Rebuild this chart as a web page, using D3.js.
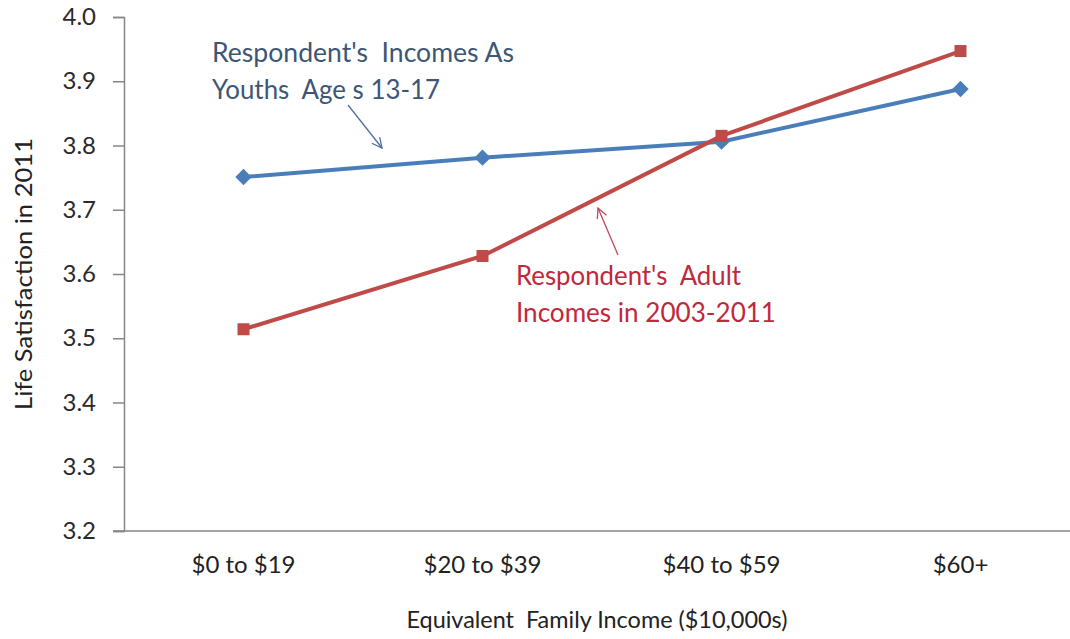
<!DOCTYPE html>
<html>
<head>
<meta charset="utf-8">
<script src="https://cdn.jsdelivr.net/npm/d3@7/dist/d3.min.js"></script>
<style>
  html, body { margin: 0; padding: 0; background: #fff; }
  svg { display: block; font-family: Lato, "Open Sans", sans-serif; }
</style>
</head>
<body>
<svg id="chart" width="1070" height="639"></svg>
<script>
// Income brackets ($10,000s)
const categories = ["$0 to $19", "$20 to $39", "$40 to $59", "$60+"];
// Life satisfaction by income measured as youths (ages 13-17)
const youthIncome = [3.751, 3.781, 3.806, 3.888];
// Life satisfaction by adult income 2003-2011
const adultIncome = [3.514, 3.628, 3.815, 3.947];
const yTicks = [3.2, 3.3, 3.4, 3.5, 3.6, 3.7, 3.8, 3.9, 4.0];

const svg = d3.select("#chart");
const plot = { left: 124, right: 1080, top: 17, bottom: 531 };

const x = d3.scaleBand().domain(categories).range([plot.left, plot.right]).padding(0);
const y = d3.scaleLinear().domain([3.2, 4.0]).range([plot.bottom, plot.top]);
const axisColor = "#868686";

// Y axis
const yAxis = svg.append("g")
  .attr("transform", `translate(${plot.left},0)`)
  .call(d3.axisLeft(y).tickValues(yTicks).tickFormat(d3.format(".1f")).tickSize(11).tickPadding(17));
yAxis.select(".domain").attr("stroke", axisColor).attr("stroke-width", 1.5);
yAxis.selectAll(".tick line").attr("stroke", axisColor).attr("stroke-width", 1.5);
yAxis.selectAll(".tick text").attr("fill", "#2a2a2a").attr("font-size", 24)
  .attr("font-family", "Lato, sans-serif");

// X axis
const xAxis = svg.append("g")
  .attr("transform", `translate(0,${plot.bottom})`)
  .call(d3.axisBottom(x).tickSize(0).tickPadding(25));
xAxis.select(".domain").attr("stroke", axisColor).attr("stroke-width", 1.5)
  .attr("d", `M${plot.left - 11},0H${plot.right}`);
xAxis.selectAll(".tick text").attr("fill", "#222").attr("font-size", 24)
  .attr("font-family", "Lato, sans-serif");

// Axis titles
svg.append("text")
  .attr("transform", `translate(32,274) rotate(-90)`)
  .attr("text-anchor", "middle")
  .attr("font-size", 23).attr("fill", "#222")
  .attr("textLength", 272).attr("lengthAdjust", "spacingAndGlyphs")
  .text("Life Satisfaction in 2011");
svg.append("text")
  .attr("x", 597).attr("y", 628)
  .attr("text-anchor", "middle")
  .attr("font-size", 23).attr("fill", "#222")
  .attr("xml:space", "preserve")
  .attr("textLength", 381).attr("lengthAdjust", "spacingAndGlyphs")
  .text("Equivalent  Family Income ($10,000s)");

const cx = d => x(d) + x.bandwidth() / 2;
const line = d3.line().x((d, i) => cx(categories[i])).y(d => y(d));

const blue = "#4A7EBB", red = "#BE4B48";

// Youth income series
svg.append("path").datum(youthIncome)
  .attr("d", line).attr("fill", "none").attr("stroke", blue).attr("stroke-width", 4);
svg.append("g").selectAll("path").data(youthIncome).join("path")
  .attr("transform", (d, i) => `translate(${cx(categories[i])},${y(d)})`)
  .attr("d", d3.symbol(d3.symbolDiamond2, 170)())
  .attr("fill", blue);

// Adult income series
svg.append("path").datum(adultIncome)
  .attr("d", line).attr("fill", "none").attr("stroke", red).attr("stroke-width", 4);
svg.append("g").selectAll("rect").data(adultIncome).join("rect")
  .attr("x", (d, i) => cx(categories[i]) - 6)
  .attr("y", d => y(d) - 6)
  .attr("width", 12).attr("height", 12)
  .attr("fill", red);

// Annotations
const defs = svg.append("defs");
[["arrowBlue", "#4F6FA0"], ["arrowRed", "#C0485A"]].forEach(([id, c]) => {
  defs.append("marker").attr("id", id)
    .attr("viewBox", "0 0 12 12").attr("refX", 11).attr("refY", 6)
    .attr("markerWidth", 12).attr("markerHeight", 12).attr("markerUnits", "userSpaceOnUse")
    .attr("orient", "auto")
    .append("path").attr("d", "M1,1 L11,6 L1,11").attr("fill", "none")
    .attr("stroke", c).attr("stroke-width", 1.3);
});

const noteLine = (sel, x0, y0, txt, len) => sel.append("tspan")
  .attr("x", x0).attr("y", y0)
  .attr("textLength", len).attr("lengthAdjust", "spacingAndGlyphs")
  .text(txt);

const blueNote = svg.append("text").attr("fill", "#3E5675").attr("font-size", 26)
  .attr("xml:space", "preserve");
noteLine(blueNote, 212, 62, "Respondent's  Incomes As", 302);
noteLine(blueNote, 212, 99, "Youths  Age s 13-17", 228);
svg.append("line").attr("x1", 348).attr("y1", 105).attr("x2", 382).attr("y2", 148)
  .attr("stroke", "#4F6FA0").attr("stroke-width", 1.3).attr("marker-end", "url(#arrowBlue)");

const redNote = svg.append("text").attr("fill", "#C0283C").attr("font-size", 26)
  .attr("xml:space", "preserve");
noteLine(redNote, 516, 285, "Respondent's  Adult", 225);
noteLine(redNote, 516, 322, "Incomes in 2003-2011", 260);
svg.append("line").attr("x1", 618).attr("y1", 255).attr("x2", 598).attr("y2", 208)
  .attr("stroke", "#C0485A").attr("stroke-width", 1.3).attr("marker-end", "url(#arrowRed)");
</script>
</body>
</html>
